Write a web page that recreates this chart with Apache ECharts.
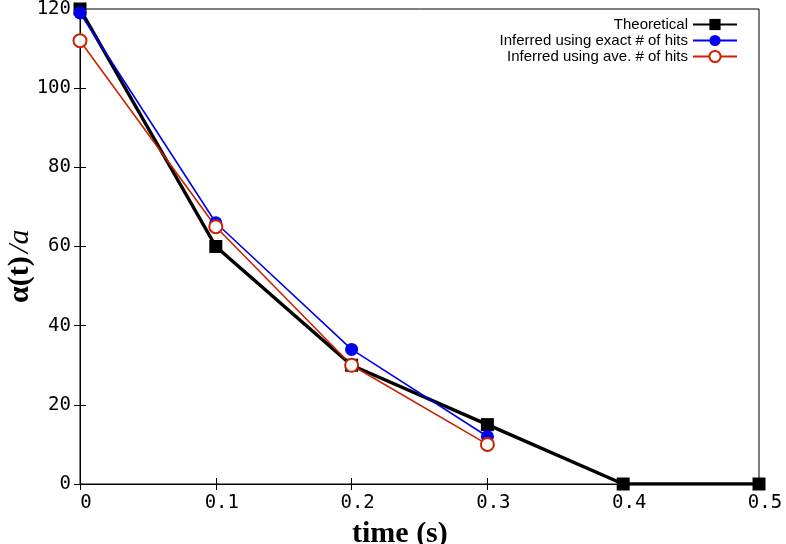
<!DOCTYPE html>
<html><head><meta charset="utf-8">
<script src="https://cdn.jsdelivr.net/npm/echarts@6/dist/echarts.min.js"></script>
<style>html,body{margin:0;padding:0;background:#fff}#c{width:786px;height:544px}</style>
</head><body><div id="c"></div>
<script>
const xTheo = [0, 0.1, 0.2, 0.3, 0.4, 0.5];
const yTheo = [120, 60, 30, 15, 0, 0];
const xInf = [0, 0.1, 0.2, 0.3];
const yExact = [119, 66, 34, 12];
const yAve = [112, 65, 30, 10];
const seriesNames = ['Theoretical', 'Inferred using exact # of hits', 'Inferred using ave. # of hits'];
const xTicks = ['0', '0.1', '0.2', '0.3', '0.4', '0.5'];

const zip = (xs, ys) => xs.map((x, i) => [x, ys[i]]);
const tickFont = {fontFamily: 'DejaVu Sans Mono', fontSize: 19, color: '#000'};
const axLine = {show: true, lineStyle: {color: '#000', width: 1}};
const tick = {inside: true, length: 6, lineStyle: {color: '#000'}};

const chart = echarts.init(document.getElementById('c'));
chart.setOption({
  animation: false,
  backgroundColor: '#fff',
  grid: {left: 80, right: 27, top: 9, bottom: 60, outerBoundsMode: 'none', containLabel: false,
         show: true, borderColor: '#000', borderWidth: 1, backgroundColor: 'transparent'},
  legend: {
    orient: 'vertical', right: 48, top: 17, align: 'right', padding: 0,
    itemWidth: 44, itemHeight: 14, itemGap: 1,
    textStyle: {fontFamily: 'Liberation Sans', fontSize: 15, lineHeight: 14, color: '#000'},
    data: seriesNames
  },
  graphic: [{
    type: 'text', left: 400 - 48, top: 519,
    style: {text: 'time (s)', font: 'bold 30px "Liberation Serif"', fill: '#000'}
  }, {
    type: 'text', x: 5, y: 303, rotation: Math.PI / 2,
    style: {
      text: '{a|α(t)} {b|/a}',
      rich: {
        a: {fontFamily: 'Liberation Serif', fontWeight: 'bold', fontSize: 30, fill: '#000'},
        b: {fontFamily: 'Liberation Serif', fontStyle: 'italic', fontSize: 30, fill: '#000'}
      }
    }
  }],
  xAxis: [{
    type: 'value', min: 0, max: 0.5, interval: 0.1,
    axisLine: axLine, axisTick: tick,
    axisLabel: Object.assign({margin: 10, padding: [0, 0, 0, 12], formatter: v => xTicks[Math.round(v * 10)]}, tickFont),
    splitLine: {show: false}
  }, {
    type: 'value', min: 0, max: 0.5, interval: 0.1, position: 'top',
    axisLine: axLine, axisTick: tick,
    axisLabel: {show: false}, splitLine: {show: false}
  }],
  yAxis: [{
    type: 'value', min: 0, max: 120, interval: 20,
    axisLine: axLine, axisTick: tick,
    axisLabel: Object.assign({margin: 9}, tickFont),
    splitLine: {show: false}
  }, {
    type: 'value', min: 0, max: 120, interval: 20, position: 'right',
    axisLine: axLine, axisTick: tick,
    axisLabel: {show: false}, splitLine: {show: false}
  }],
  series: [{
    name: seriesNames[0], type: 'line', data: zip(xTheo, yTheo),
    symbol: 'rect', symbolSize: 13,
    lineStyle: {color: '#000', width: 3.5}, itemStyle: {color: '#000'}
  }, {
    name: seriesNames[1], type: 'line', data: zip(xInf, yExact),
    symbol: 'circle', symbolSize: 13,
    lineStyle: {color: '#0000ee', width: 1.6}, itemStyle: {color: '#0000ee'}
  }, {
    name: seriesNames[2], type: 'line', data: zip(xInf, yAve),
    symbol: 'emptyCircle', symbolSize: 13,
    lineStyle: {color: '#cc2200', width: 1.6},
    itemStyle: {color: '#cc2200', borderColor: '#cc2200', borderWidth: 2}
  }]
});
</script></body></html>
